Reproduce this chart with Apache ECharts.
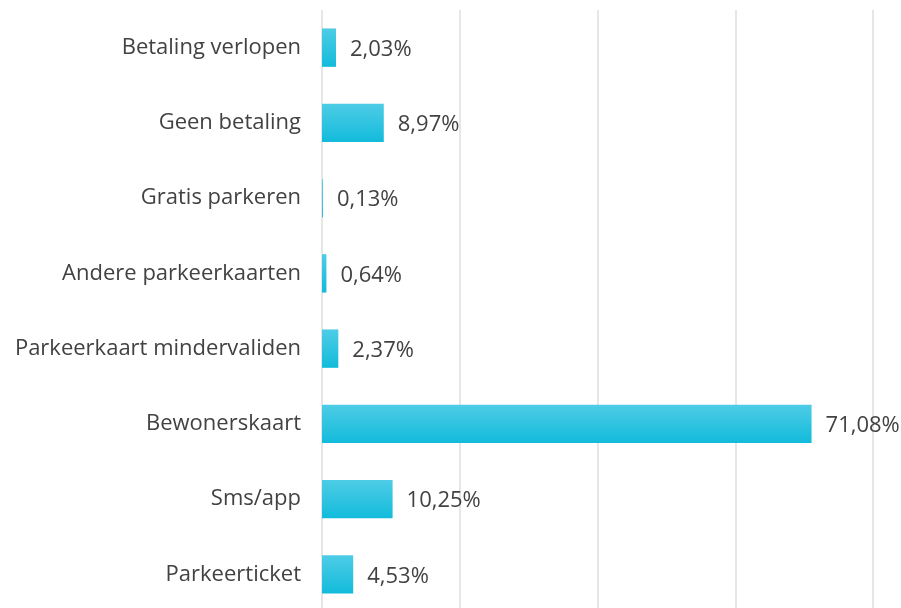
<!DOCTYPE html>
<html>
<head>
<meta charset="utf-8">
<script src="https://cdn.jsdelivr.net/npm/echarts@6/dist/echarts.min.js"></script>
<style>
  html, body { margin: 0; padding: 0; background: #fff; }
  #chart { width: 901px; height: 608px; }
</style>
</head>
<body>
<div id="chart"></div>
<script>
(function() {
  // categories listed bottom to top (category axis starts at the bottom)
  var categories = ['Parkeerticket', 'Sms/app', 'Bewonerskaart', 'Parkeerkaart mindervaliden',
    'Andere parkeerkaarten', 'Gratis parkeren', 'Geen betaling', 'Betaling verlopen'];
  var values = [4.53, 10.25, 71.08, 2.37, 0.64, 0.13, 8.97, 2.03];
  var xTicks = [0, 20, 40, 60, 80];

  var ink = '#424242';
  var font = '"Open Sans", sans-serif';

  var chart = echarts.init(document.getElementById('chart'), null, { renderer: 'canvas' });
  chart.setOption({
    animation: false,
    grid: { left: 322, width: 551, top: 10, height: 602, outerBoundsMode: 'none' },
    xAxis: {
      type: 'value',
      min: xTicks[0],
      max: xTicks[xTicks.length - 1],
      interval: xTicks[1] - xTicks[0],
      axisLine: { show: false },
      axisTick: { show: false },
      axisLabel: { show: false },
      splitLine: { lineStyle: { color: '#e6e6e6', width: 2 } }
    },
    yAxis: {
      type: 'category',
      data: categories,
      axisLine: { show: false },
      axisTick: { show: false },
      axisLabel: { color: ink, fontSize: 22, fontFamily: font, margin: 21, padding: [4, 0, 0, 0] }
    },
    series: [{
      type: 'bar',
      data: values,
      barWidth: '51%',
      itemStyle: {
        color: new echarts.graphic.LinearGradient(0, 0, 0, 1, [
          { offset: 0, color: '#4ecce6' },
          { offset: 1, color: '#12bbdb' }
        ])
      },
      label: {
        show: true,
        position: 'right',
        distance: 14,
        offset: [0, 2],
        color: ink,
        fontSize: 22,
        fontFamily: font,
        formatter: function(p) { return p.value.toFixed(2).replace('.', ',') + '%'; }
      }
    }]
  });
})();
</script>
</body>
</html>
